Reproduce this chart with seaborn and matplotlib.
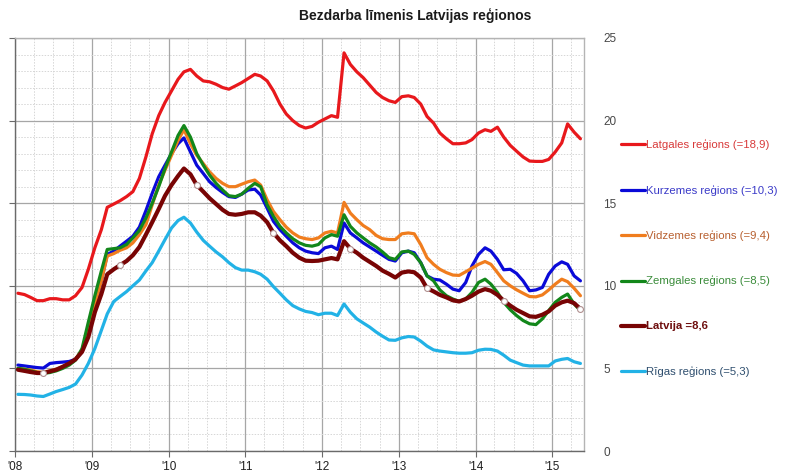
import numpy as np
import pandas as pd
import matplotlib
matplotlib.use('Agg')
import matplotlib.pyplot as plt
import matplotlib.dates as mdates
from matplotlib.lines import Line2D
from matplotlib.ticker import MultipleLocator
import seaborn as sns

# monthly points, drawn mid-month, Jan 2008 .. May 2015
months = pd.date_range('2008-01-01', periods=89, freq='MS') + pd.Timedelta(days=14)

latgale = [9.55, 9.47, 9.3, 9.1, 9.1, 9.22, 9.22, 9.15, 9.15, 9.4, 9.9, 11.0,
           12.3, 13.4, 14.75, 14.95, 15.15, 15.4, 15.7, 16.5, 17.8, 19.2, 20.3, 21.1,
           21.8, 22.5, 22.95, 23.1, 22.7, 22.4, 22.35, 22.2, 22.0, 21.9, 22.1, 22.3,
           22.55, 22.8, 22.7, 22.4, 21.8, 21.0, 20.4, 20.0, 19.7, 19.55, 19.65, 19.9,
           20.1, 20.3, 20.2, 24.1, 23.4, 22.95, 22.6, 22.15, 21.7, 21.4, 21.2, 21.1,
           21.45, 21.5, 21.4, 21.0, 20.25, 19.85, 19.25, 18.9, 18.6, 18.6, 18.65, 18.85,
           19.25, 19.45, 19.35, 19.6, 19.0, 18.5, 18.15, 17.8, 17.55, 17.53, 17.53, 17.65,
           18.1, 18.65, 19.8, 19.3, 18.9]

kurzeme = [5.2, 5.15, 5.1, 5.05, 5.02, 5.3, 5.35, 5.38, 5.42, 5.55, 6.0, 7.2,
           8.8, 10.3, 11.9, 12.1, 12.4, 12.7, 13.0, 13.55, 14.55, 15.6, 16.6, 17.3,
           18.0, 18.6, 18.95, 18.1, 17.3, 16.8, 16.3, 15.95, 15.65, 15.4, 15.35, 15.55,
           15.8, 15.85, 15.5, 14.7, 13.9, 13.4, 13.0, 12.6, 12.3, 12.1, 12.0, 11.95,
           12.3, 12.4, 12.2, 13.8, 13.2, 12.9, 12.6, 12.35, 12.1, 11.85, 11.6, 11.5,
           12.0, 12.1, 12.0, 11.4, 10.6, 10.4, 10.35, 10.1, 9.8, 9.7, 10.2, 11.2,
           11.9, 12.3, 12.1, 11.6, 10.97, 11.0, 10.75, 10.3, 9.7, 9.75, 9.9, 10.7,
           11.2, 11.45, 11.3, 10.6, 10.3]

vidzeme = [5.0, 4.95, 4.9, 4.8, 4.75, 4.85, 4.95, 5.1, 5.3, 5.55, 6.1, 7.4,
           8.9, 10.3, 11.8, 11.95, 12.15, 12.3, 12.6, 13.1, 13.7, 14.9, 16.1, 17.0,
           17.9, 18.8, 19.45, 18.6, 17.9, 17.4, 16.9, 16.5, 16.2, 16.0, 16.0, 16.15,
           16.3, 16.4, 16.1, 15.2, 14.5, 14.0, 13.55, 13.2, 12.95, 12.85, 12.8, 12.9,
           13.2, 13.3, 13.2, 15.05, 14.4, 14.0, 13.65, 13.4, 13.05, 12.85, 12.8, 12.8,
           13.15, 13.2, 13.15, 12.5, 11.7, 11.3, 11.0, 10.8, 10.65, 10.63, 10.85, 11.07,
           11.3, 11.47, 11.3, 10.8, 10.3, 10.0, 9.76, 9.55, 9.35, 9.33, 9.45, 9.75,
           10.1, 10.4, 10.25, 9.85, 9.4]

zemgale = [5.0, 4.95, 4.85, 4.75, 4.7, 4.75, 4.85, 5.0, 5.2, 5.5, 6.2, 7.8,
           9.4, 10.9, 12.2, 12.25, 12.3, 12.5, 12.9, 13.35, 14.1, 15.0, 16.0, 17.1,
           18.1, 19.1, 19.7, 19.0, 18.0, 17.3, 16.7, 16.2, 15.8, 15.45, 15.4, 15.55,
           15.9, 16.2, 16.0, 14.9, 14.2, 13.6, 13.2, 12.85, 12.6, 12.45, 12.4, 12.5,
           12.9, 13.1, 13.0, 14.3, 13.6, 13.2, 12.9, 12.6, 12.35, 12.05, 11.7, 11.6,
           12.05, 12.1, 11.9, 11.4, 10.6, 10.3, 9.75, 9.4, 9.2, 9.05, 9.2, 9.6,
           10.2, 10.4, 10.1, 9.6, 9.0, 8.55, 8.2, 7.9, 7.7, 7.65, 8.0, 8.5,
           9.0, 9.3, 9.5, 8.9, 8.5]

latvija = [4.92, 4.85, 4.78, 4.72, 4.72, 4.82, 4.92, 5.1, 5.3, 5.55, 6.0, 6.9,
           8.4, 9.5, 10.7, 11.0, 11.25, 11.5, 11.85, 12.35, 13.1, 13.85, 14.65, 15.45,
           16.1, 16.65, 17.1, 16.75, 16.1, 15.7, 15.3, 14.95, 14.6, 14.35, 14.3, 14.35,
           14.45, 14.45, 14.25, 13.85, 13.2, 12.75, 12.4, 12.0, 11.7, 11.52, 11.5, 11.52,
           11.6, 11.68, 11.6, 12.7, 12.25, 12.0, 11.7, 11.45, 11.2, 10.92, 10.72, 10.5,
           10.8, 10.87, 10.82, 10.5, 9.85, 9.66, 9.45, 9.3, 9.12, 9.05, 9.2, 9.4,
           9.65, 9.8, 9.7, 9.45, 9.1, 8.8, 8.55, 8.35, 8.15, 8.12, 8.25, 8.45,
           8.8, 9.0, 9.1, 8.95, 8.6]

riga = [3.43, 3.42, 3.39, 3.33, 3.3, 3.45, 3.6, 3.72, 3.85, 4.05, 4.6, 5.3,
        6.2, 7.3, 8.3, 9.05, 9.35, 9.65, 10.0, 10.35, 10.9, 11.4, 12.1, 12.8,
        13.5, 13.95, 14.15, 13.8, 13.25, 12.75, 12.4, 12.05, 11.75, 11.4, 11.1, 10.95,
        10.95, 10.85, 10.7, 10.4, 9.95, 9.55, 9.15, 8.8, 8.6, 8.45, 8.38, 8.25,
        8.34, 8.34, 8.2, 8.9, 8.4, 8.0, 7.75, 7.5, 7.2, 6.95, 6.72, 6.7,
        6.85, 6.93, 6.9, 6.65, 6.35, 6.12, 6.05, 6.0, 5.95, 5.92, 5.92, 5.95,
        6.1, 6.16, 6.15, 6.05, 5.8, 5.5, 5.35, 5.2, 5.15, 5.15, 5.15, 5.15,
        5.45, 5.55, 5.6, 5.4, 5.3]

labels = ['Latgales reģions (=18,9)', 'Kurzemes reģions (=10,3)', 'Vidzemes reģions (=9,4)',
          'Zemgales reģions (=8,5)', 'Latvija =8,6', 'Rīgas reģions (=5,3)']
line_colors = ['#e8181c', '#0a0ad8', '#f07d1e', '#12871a', '#780404', '#22b2e6']
text_colors = ['#d83a3a', '#3a3ac8', '#b86030', '#3a8c3a', '#6e0e0e', '#2e4e6e']
values = [latgale, kurzeme, vidzeme, zemgale, latvija, riga]

sns.set_style('white')
plt.rcParams['font.family'] = ['Liberation Sans', 'DejaVu Sans']

fig = plt.figure(figsize=(7.87, 4.73), dpi=100)
ax = fig.add_axes([15 / 787, 1 - 451 / 473, 569 / 787, 413 / 473])

# draw order: Riga first, Latvija on top
order = [5, 0, 1, 2, 3, 4]
for z, i in enumerate(order):
    lw = 3.0 if i == 4 else 2.3
    sns.lineplot(x=months, y=values[i], color=line_colors[i], lw=lw, ax=ax, zorder=3 + z)

# white dots on Latvija every May
dots = pd.DataFrame({'d': months[4::12], 'v': latvija[4::12]})
sns.scatterplot(data=dots, x='d', y='v', s=18, color='white', edgecolor='#b09090',
                linewidth=0.8, ax=ax, zorder=10)

ax.set_xlim(pd.Timestamp('2008-01-01'), pd.Timestamp('2015-06-01'))
ax.set_ylim(0, 25)
ax.xaxis.set_major_locator(mdates.YearLocator())
ax.xaxis.set_major_formatter(mdates.DateFormatter("'%y"))
ax.xaxis.set_minor_locator(mdates.MonthLocator(bymonth=[4, 7, 10]))
ax.yaxis.set_major_locator(MultipleLocator(5))
ax.yaxis.set_minor_locator(MultipleLocator(1))

ax.grid(which='major', color='#a6a6a6', lw=0.9, ls='-', zorder=0)
ax.grid(which='minor', color='#d6d6d6', lw=0.7, ls=(0, (1.5, 1.5)), zorder=0)
ax.set_axisbelow(True)

for s in ['left', 'bottom']:
    ax.spines[s].set_color('#6a6a6a')
    ax.spines[s].set_linewidth(1.0)
for s in ['top', 'right']:
    ax.spines[s].set_color('#b4b4b4')
    ax.spines[s].set_linewidth(1.0)

ax.tick_params(axis='y', which='major', left=True, right=False, labelleft=False,
               labelright=True, length=4, color='#6a6a6a', pad=10,
               labelsize=8.5, labelcolor='#484848')
ax.tick_params(axis='y', which='minor', left=False, right=False)
ax.tick_params(axis='x', which='major', bottom=True, length=4, color='#6a6a6a',
               labelsize=8.5, labelcolor='#202020', pad=3)
ax.tick_params(axis='x', which='minor', bottom=False)
ax.set_xlabel('')
ax.set_ylabel('')

fig.text(0.528, 0.968, 'Bezdarba līmenis Latvijas reģionos', ha='center', va='center',
         fontsize=10, fontweight='bold', color='#1a1a1a')

# legend drawn at the right side
leg_y = [144, 190, 235, 280.5, 325.5, 371]
for i in range(6):
    yf = 1 - leg_y[i] / 473
    lw = 3.0 if i == 4 else 2.3
    fig.add_artist(Line2D([621 / 787, 645 / 787], [yf, yf], color=line_colors[i], lw=lw,
                          transform=fig.transFigure))
    fig.text(646 / 787, yf, labels[i], ha='left', va='center', fontsize=8.2,
             color=text_colors[i], fontweight='bold' if i == 4 else 'normal')

fig.savefig('out.png', dpi=100)
